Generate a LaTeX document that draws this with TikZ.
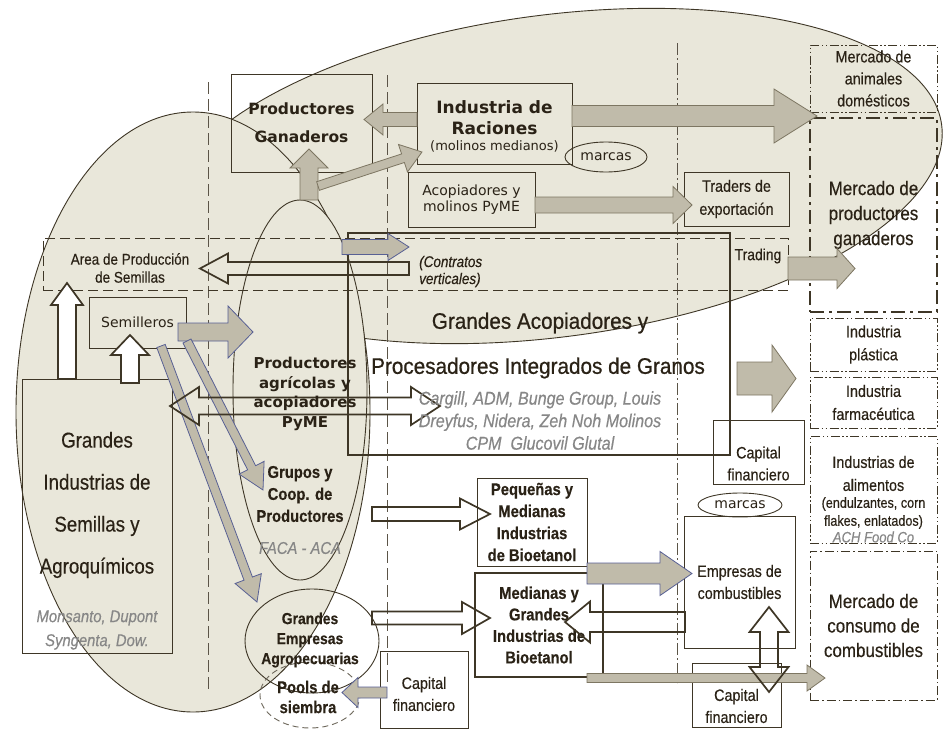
\documentclass[tikz,border=0pt]{standalone}
\usepackage{fontspec}
\setmainfont{Liberation Sans}
\newfontfamily\nar[FakeStretch=0.87, FakeBold=0.35]{Liberation Sans}
\newfontfamily\wid[FakeStretch=0.92, FakeBold=0.7]{Liberation Sans}
\newfontfamily\ver{DejaVu Sans}
\usetikzlibrary{calc,shapes.geometric}
\definecolor{beige}{RGB}{233,231,218}
\definecolor{arrowfill}{RGB}{192,187,170}
\definecolor{ink}{RGB}{62,54,38}
\definecolor{txt}{RGB}{42,34,22}
\definecolor{slate}{RGB}{88,96,148}
\definecolor{greytxt}{RGB}{135,135,135}
\definecolor{tanline}{RGB}{125,118,98}
\newcommand\fs[2]{\fontsize{#1}{#2}\selectfont}

% block arrow: start, tip, half shaft width, half head width, head length
\newcommand\barrow[6][]{%
  \path let \p1=#2, \p2=#3 in \pgfextra{%
    \pgfmathsetmacro\baang{atan2(\y2-\y1,\x2-\x1)}%
    \pgfmathsetmacro\balen{veclen(\x2-\x1,\y2-\y1)}%
    \xdef\baang{\baang}\xdef\balen{\balen}\xdef\bax{\x1}\xdef\bay{\y1}};
  \draw[#1, shift={(\bax,\bay)}, rotate=\baang]
    (0,#4) -- ({\balen-#6},#4) -- ({\balen-#6},#5) -- (\balen,0)
    -- ({\balen-#6},-#5) -- ({\balen-#6},-#4) -- (0,-#4) -- cycle;}
% double-headed block arrow
\newcommand\bdarrow[6][]{%
  \path let \p1=#2, \p2=#3 in \pgfextra{%
    \pgfmathsetmacro\baang{atan2(\y2-\y1,\x2-\x1)}%
    \pgfmathsetmacro\balen{veclen(\x2-\x1,\y2-\y1)}%
    \xdef\baang{\baang}\xdef\balen{\balen}\xdef\bax{\x1}\xdef\bay{\y1}};
  \draw[#1, shift={(\bax,\bay)}, rotate=\baang]
    (0,0) -- (#6,#5) -- (#6,#4) -- ({\balen-#6},#4) -- ({\balen-#6},#5) -- (\balen,0)
    -- ({\balen-#6},-#5) -- ({\balen-#6},-#4) -- (#6,-#4) -- (#6,-#5) -- cycle;}

\tikzset{
  box/.style={draw=ink, line width=0.9pt, inner sep=0pt, align=center, text=txt},
  lbl/.style={inner sep=0pt, align=center, text=txt},
  region/.style={draw=ink, line width=0.9pt, fill=beige},
  mk/.style={dash pattern=on 9pt off 2.5pt on 1.5pt off 2.5pt on 1.5pt off 2.5pt},
  garrow/.style={fill=arrowfill, draw=tanline, line width=0.8pt},
  gblue/.style={fill=arrowfill, draw=slate, line width=0.8pt},
  harrow/.style={draw=ink, line width=1.7pt, line join=miter},
  guide/.style={draw=ink!85, line width=0.9pt}
}

\begin{document}
\begin{tikzpicture}[x=1pt,y=-1pt]
\useasboundingbox (0,0) rectangle (947,728);
\fill[white] (0,0) rectangle (947,728);

% shaded regions
\draw[region, rotate around={7.5:(553,176)}] (553,176) ellipse [x radius=392pt, y radius=161pt];
\draw[region] (193,412) ellipse [x radius=177pt, y radius=300pt];
\draw[region] (300,390) ellipse [x radius=67pt, y radius=190pt];

% column guides
\draw[guide, dash pattern=on 12pt off 5pt] (208,82) -- (208,690);
\draw[guide, dash pattern=on 12pt off 5pt] (387,75) -- (387,683);
\draw[guide, dash pattern=on 12pt off 3pt on 2pt off 3pt] (677,43) -- (677,683);

% seed production band
\node[draw=ink, line width=0.9pt, dash pattern=on 10pt off 5pt, minimum width=745, minimum height=52, inner sep=0pt] (area) at (415.5,264) {};

% ellipses of producers
\node[draw=ink, line width=0.9pt, ellipse, minimum width=134, minimum height=104, inner sep=0pt] (gea) at (312,641) {};
\node[draw=ink!75, line width=0.9pt, dash pattern=on 6pt off 4pt, ellipse, minimum width=100, minimum height=66, inner sep=0pt] (pools) at (310,695) {};

% boxes
\node[box, minimum width=141, minimum height=98, font=\ver\bfseries\fs{15.5}{28}] (pg) at (301.5,123) {Productores\\Ganaderos};
\node[box, minimum width=155, minimum height=81] (rac) at (494.5,123.5) {};
\node[box, ellipse, minimum width=82, minimum height=30, font=\ver\fs{14}{16}] (mc1) at (606,157) {marcas};
\node[box, minimum width=127, minimum height=55, font=\ver\fs{14}{16.5}] (acop) at (471.5,199.5) {Acopiadores y\\molinos PyME};
\node[box, minimum width=105, minimum height=54, font=\nar\fs{16.5}{23}] (trad) at (736.5,199) {Traders de\\exportación};
\node[box, mk, minimum width=127, minimum height=67, font=\nar\fs{16.5}{22}] (mani) at (873.5,78.5) {Mercado de\\animales\\domésticos};
\node[box, line width=2.4pt, dash pattern=on 14pt off 5pt on 3pt off 5pt, minimum width=127, minimum height=194, font=\nar\fs{19.5}{25}] (mpro) at (873.5,215) {Mercado de\\productores\\ganaderos};
\node[box, mk, minimum width=127, minimum height=53, font=\nar\fs{16.5}{23}] (ipl) at (873.5,344.5) {Industria\\plástica};
\node[box, mk, minimum width=127, minimum height=51, font=\nar\fs{16.5}{23}] (ifa) at (873.5,402.5) {Industria\\farmacéutica};
\node[box, mk, minimum width=127, minimum height=107] (ial) at (873.5,489.5) {};
\node[box, dash pattern=on 9pt off 3pt on 1.5pt off 3pt, minimum width=127, minimum height=149, font=\nar\fs{19.5}{24.5}] (mcon) at (873.5,625.5) {Mercado de\\consumo de\\combustibles};
\node[box, minimum width=111, minimum height=132, font=\nar\fs{16.5}{22}] (emp) at (739.5,582) {Empresas de\\combustibles};
\node[box, ellipse, minimum width=84, minimum height=24, font=\ver\fs{14}{16}] (mc2) at (740,505) {marcas};
\node[box, minimum width=89, minimum height=64] (cap3) at (736.5,695) {};
\node[box, minimum width=91, minimum height=64] (cap1) at (758.5,452) {};
\node[box, minimum width=88, minimum height=77] (cap2) at (424,689.5) {};
\node[box, minimum width=110, minimum height=88, font=\nar\bfseries\fs{17}{22}] (peq) at (532,522) {Pequeñas y\\Medianas\\Industrias\\de Bioetanol};
\node[box, line width=2.2pt, minimum width=128, minimum height=104, font=\nar\bfseries\fs{17}{21.5}] (med) at (539,625) {Medianas y\\Grandes\\Industrias de\\Bioetanol};
\node[box, minimum width=97, minimum height=51, font=\ver\fs{14}{16}] (sem) at (137.5,322.5) {Semilleros};
\node[box, minimum width=150, minimum height=274] (gis) at (97,516) {};
\node[draw=ink, line width=2.2pt, minimum width=382, minimum height=222, inner sep=0pt] (gap) at (539,344) {};

% grey flow arrows
\barrow[garrow]{(572,116)}{(817,116)}{10.5}{27}{43}
\barrow[garrow]{(535,205)}{(692,205)}{8}{18.5}{19}
\barrow[garrow]{(417,119.5)}{(364,119.5)}{7}{15.5}{19}
\barrow[garrow]{(309,200)}{(309,149)}{9}{19}{19}
\barrow[garrow]{(318,186)}{(422,152)}{4.5}{14.5}{20}
\barrow[garrow]{(788,268.5)}{(855,268.5)}{11.5}{20}{18}
\barrow[garrow]{(737,378.5)}{(796,378.5)}{16.5}{33.5}{24}
\barrow[gblue]{(342,247)}{(409,247)}{7.5}{13.5}{21}
\barrow[gblue]{(178,332)}{(253,332)}{9}{26}{25}
\barrow[gblue]{(187,341)}{(263,490)}{4.5}{14}{25}
\barrow[gblue]{(161,346)}{(257,602)}{4.5}{14}{25}
\barrow[gblue]{(587,573.5)}{(692,573.5)}{10.5}{22}{32}
\barrow[garrow]{(587,678)}{(825,678)}{4.5}{13}{18}
\barrow[gblue]{(387,692.5)}{(342,692.5)}{5.5}{15}{16}

% outlined arrows
\barrow[harrow]{(409,268.5)}{(200,268.5)}{6.5}{15}{28}
\barrow[harrow, fill=white]{(67,379)}{(67,283)}{9}{16}{22}
\barrow[harrow, fill=white]{(130,383)}{(130,335)}{9}{19}{20}
\bdarrow[harrow]{(170,406)}{(440,406)}{8.5}{19}{29}
\barrow[harrow]{(372,514)}{(490,514)}{7}{15.5}{30}
\barrow[harrow]{(372,618)}{(490,618)}{6.5}{16}{28}
\barrow[harrow]{(685,622)}{(565,622)}{10}{20.5}{25}
\bdarrow[harrow]{(769,607)}{(769,692)}{9}{19.5}{25}

% labels
\node[lbl, font=\ver\bfseries\fs{17}{21}] (rac-a) at (494.5,117.5) {Industria de\\Raciones};
\node[lbl, font=\ver\fs{13}{15}] (rac-b) at (494.5,146) {(molinos medianos)};
\node[lbl, font=\nar\fs{16.5}{23}] (ial-a) at (873.5,473.5) {Industrias de\\alimentos};
\node[lbl, font=\nar\fs{14.5}{18}] (ial-b) at (873.5,513) {(endulzantes, corn\\flakes, enlatados)};
\node[lbl, text=greytxt, font=\nar\itshape\fs{15}{17}] (ial-c) at (873.5,537) {ACH Food Co};
\node[lbl, font=\nar\fs{16.5}{22}] (cap3-t) at (736.5,706) {Capital\\financiero};
\node[lbl, font=\nar\fs{16.5}{22}] (cap1-t) at (758.5,463.5) {Capital\\financiero};
\node[lbl, font=\nar\fs{16.5}{22}] (cap2-t) at (424,694) {Capital\\financiero};
\node[lbl, font=\nar\fs{21.5}{42}] (gis-a) at (97,505) {Grandes\\Industrias de\\Semillas y\\Agroquímicos};
\node[lbl, text=greytxt, font=\nar\itshape\fs{17}{24}] (gis-b) at (97,630) {Monsanto, Dupont\\Syngenta, Dow.};
\node[lbl, font=\wid\fs{22.5}{26}] (gap-a) at (540,323) {Grandes Acopiadores y};
\node[lbl, font=\wid\fs{22.5}{26}] (gap-b) at (538,368) {Procesadores Integrados de Granos};
\node[lbl, text=greytxt, font=\nar\itshape\fs{18.5}{22.5}] (gap-c) at (540,420.5) {Cargill, ADM, Bunge Group, Louis\\Dreyfus, Nidera, Zeh Noh Molinos\\CPM\ \ Glucovil Glutal};
\node[lbl, font=\nar\fs{15.5}{18}] (area-t) at (130,268) {Area de Producción\\de Semillas};
\node[lbl, anchor=west, align=left, font=\nar\itshape\fs{15.5}{17}] (contr) at (419,271.5) {(Contratos\\verticales)};
\node[lbl, font=\nar\fs{16}{18}] (trading) at (758,256) {Trading};
\node[lbl, font=\ver\bfseries\fs{15}{19.5}] (pap) at (305,394) {Productores\\agrícolas y\\acopiadores\\PyME};
\node[lbl, font=\nar\bfseries\fs{17}{22}] (gcp) at (300,494) {Grupos y\\Coop. de\\Productores};
\node[lbl, text=greytxt, font=\nar\itshape\fs{17}{20}] (faca) at (300,548) {FACA - ACA};
\node[lbl, font=\nar\bfseries\fs{16}{20}] (gea-t) at (310,640) {Grandes\\Empresas\\Agropecuarias};
\node[lbl, font=\nar\bfseries\fs{17}{20}] (pools-t) at (308,697) {Pools de\\siembra};
\end{tikzpicture}
\end{document}
